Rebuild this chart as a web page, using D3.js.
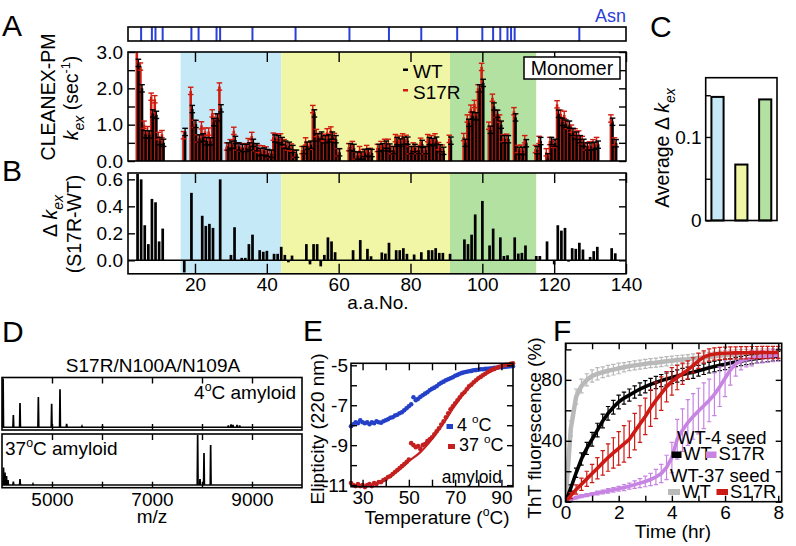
<!DOCTYPE html>
<html>
<head>
<meta charset="utf-8">
<script src="https://cdn.jsdelivr.net/npm/d3@7"></script>
<style>
  body { margin: 0; background: #fff; }
  text { font-family: "Liberation Sans", Arial, Helvetica, sans-serif; }
</style>
</head>
<body>
<svg id="fig" width="796" height="546"></svg>
<script>
// ---- A / B : CLEANEX-PM k_ex per residue ----
const residues = [4,5,6,7,8,9,10,11,17,19,20,21,22,23,24,25,26,27,29,30,31,32,33,34,35,36,37,38,39,40,41,42,43,44,45,46,47,48,50,51,52,53,54,55,56,57,58,59,60,63,64,65,66,67,68,69,71,72,73,74,75,76,77,78,79,80,81,82,83,84,85,86,87,88,89,91,95,96,97,98,99,100,102,103,104,105,106,107,109,110,111,112,115,116,118,119,120,121,122,123,124,125,126,127,128,129,130,131,132,136,137];
const wtKex = [2.70,2.00,0.74,0.73,1.31,1.27,0.55,0.50,0.80,1.43,1.02,0.62,0.65,0.55,0.54,1.07,1.20,1.45,0.40,0.45,0.58,0.40,0.36,0.36,0.40,0.50,0.38,0.25,0.26,0.22,0.20,0.62,0.60,0.55,0.45,0.42,0.33,0.20,0.30,0.42,0.45,1.31,0.65,0.70,0.60,0.62,0.70,0.60,0.24,0.38,0.36,0.15,0.15,0.22,0.24,0.22,0.36,0.38,0.45,0.37,0.30,0.55,0.51,0.56,0.56,0.30,0.36,0.30,0.47,0.30,0.55,0.52,0.56,0.35,0.28,0.56,0.50,1.05,1.25,1.23,2.00,2.15,0.86,1.50,1.30,1.00,0.60,0.60,1.20,0.28,0.28,0.49,0.30,0.55,0.10,0.55,0.50,1.30,1.08,1.03,1.00,0.80,0.70,0.60,0.50,0.40,0.40,0.42,0.45,1.08,0.49];
const s17rKex = [3.34,2.60,1.00,0.85,1.77,1.70,0.69,0.74,0.71,1.93,1.02,0.62,0.98,0.81,0.81,1.31,1.20,2.05,0.40,0.49,0.83,0.40,0.38,0.38,0.52,0.69,0.38,0.33,0.32,0.29,0.20,0.67,0.65,0.65,0.49,0.40,0.37,0.20,0.30,0.54,0.42,1.43,0.77,0.66,0.64,0.79,0.84,0.66,0.24,0.38,0.44,0.15,0.30,0.22,0.33,0.25,0.36,0.44,0.50,0.50,0.30,0.63,0.59,0.65,0.61,0.30,0.40,0.30,0.53,0.30,0.63,0.60,0.65,0.41,0.34,0.61,0.66,1.17,1.44,1.57,2.00,2.59,0.97,1.74,1.30,1.17,0.63,0.64,1.37,0.33,0.34,0.60,0.33,0.58,0.24,0.55,0.47,1.56,1.30,1.27,0.99,0.89,0.79,0.73,0.58,0.40,0.43,0.49,0.55,1.17,0.54];
const deltaKex = [0.64,0.60,0.26,0.12,0.455,0.43,0.14,0.235,-0.09,0.50,null,null,0.33,0.255,0.27,0.24,null,0.60,null,0.04,0.245,null,0.018,0.018,0.12,0.19,null,0.075,0.063,0.07,null,0.048,0.048,0.10,0.04,-0.015,0.035,null,null,0.12,-0.03,0.12,0.12,-0.045,0.04,0.17,0.14,0.06,null,null,0.075,null,0.15,null,0.085,0.03,null,0.058,0.05,0.13,null,0.075,0.075,0.09,0.048,null,0.043,null,0.06,null,0.075,0.075,0.09,0.055,0.055,0.048,0.155,0.12,0.19,0.34,null,0.44,0.11,0.235,null,0.17,0.032,0.037,0.17,0.05,0.055,0.11,0.032,0.032,0.14,null,-0.03,0.26,0.22,0.24,-0.01,0.09,0.085,0.13,0.08,null,0.025,0.068,0.10,0.09,0.052];
const asnSites = [5,8,9,11,19,21,26,27,36,48,63,74,83,93,100,103,105,107,108,109,127];
const regionStart = [16, 44, 91];
const regionEnd = [44, 91, 115];

// ---- C : average delta per region ----
const regionNames = ['17-44', '45-90', '91-114'];
const avgDelta = [0.148, 0.067, 0.145];

// ---- D : mass spectra (m/z, relative intensity) ----
const cold4Mz = [4022,4227,4360,4727,4993,5160,5293,5600,6010,8527,8580,8620,8700,8753];
const cold4Int = [1.0,0.25,0.5,0.62,0.48,0.78,0.07,0.02,0.02,0.04,0.06,0.05,0.05,0.04];
const warm37Mz = [4030,4060,4090,4120,4227,4360,4620,7913,7960,8040,8173];
const warm37Int = [0.35,0.25,0.18,0.1,0.07,0.12,0.02,1.0,0.12,0.64,0.8];

// ---- E : thermal melt ----
const tempC = [25,26,27,28,29,30,31,32,33,34,35,36,37,38,39,40,41,42,43,44,45,46,47,48,49,50,51,52,53,54,55,56,57,58,59,60,61,62,63,64,65,66,67,68,69,70,71,72,73,74,75,76,77,78,79,80,81,82,83,84,85,86,87,88,89,90,91,92,93,94,95];
const ellip4 = [-8.05,-7.95,-7.85,-7.9,-7.75,-7.85,-7.9,-7.85,-7.95,-7.85,-7.9,-7.8,-7.85,-7.88,-7.8,-7.75,-7.7,-7.63,-7.6,-7.52,-7.48,-7.4,-7.35,-7.25,-7.15,-7.05,-6.95,-6.6,-6.75,-6.68,-6.58,-6.5,-6.42,-6.35,-6.25,-6.18,-6.12,-6.05,-5.95,-5.88,-5.82,-5.75,-5.7,-5.65,-5.6,-5.52,-5.48,-5.42,-5.38,-5.35,-5.32,-5.3,-5.28,-5.25,-5.24,-5.22,-5.2,-5.2,-5.18,-5.17,-5.16,-5.15,-5.13,-5.12,-5.1,-5.1,-5.08,-5.07,-5.06,-5.05,-5.05];
const ellip37 = [-10.9,-11.0,-11.05,-10.95,-11.05,-11.0,-11.1,-11.0,-10.95,-11.05,-10.9,-10.95,-10.85,-10.85,-10.75,-10.7,-10.6,-10.55,-10.45,-10.35,-10.25,-10.15,-10.05,-9.95,-9.85,-9.72,-8.9,-9.0,-9.1,-9.05,-9.2,-9.0,-8.95,-8.8,-8.7,-8.6,-8.45,-8.3,-8.15,-7.97,-7.8,-7.6,-7.4,-7.2,-7.05,-6.9,-6.75,-6.6,-6.45,-6.35,-6.2,-6.05,-5.97,-5.85,-5.75,-5.65,-5.58,-5.5,-5.42,-5.35,-5.28,-5.22,-5.18,-5.12,-5.08,-5.05,-5.0,-4.98,-4.97,-4.93,-4.9];
const fitTemp = [25,30,35,40,45,50,55,60,65,70,75,80,85,90,95];
const fit37 = [-11.0,-11.05,-10.95,-10.7,-10.3,-9.8,-9.35,-8.7,-7.9,-7.0,-6.25,-5.7,-5.3,-5.05,-4.9];

// ---- F : ThT kinetics ----
const timeHr = [0,0.2,0.4,0.6,0.8,1.0,1.2,1.4,1.6,1.8,2.0,2.2,2.4,2.6,2.8,3.0,3.2,3.4,3.6,3.8,4.0,4.2,4.4,4.6,4.8,5.0,5.2,5.4,5.6,5.8,6.0,6.2,6.4,6.6,6.8,7.0,7.2,7.4,7.6,7.8,8.0];
const wt37WT = [0,48,69,76,80,82.5,84,85,86,86.7,87.5,88.3,89,89.5,90,90.5,91,91.3,91.7,92.2,92.6,93,93.3,93.6,94,94.3,94.7,95,95.4,95.8,96.2,96.5,96.7,96.9,97,97.1,97.2,97.3,97.4,97.5,97.6];
const wt37WTErr = [0,5,5,4.5,4,4,4,3.5,3.5,3.5,3.5,3,3,3,3,3,3,3,3,3,3,3,3,3,3,3,3,3,3,3,3,3,3,3,3,3,3,3,3,3,3];
const wt4WT = [0,9,19,28,35,41,47,53,58,62,65.5,68,70,72,74,75.5,77,78.3,79.5,80.5,81.5,82.5,83.5,84.3,85,86,87,88,88.8,89.5,90.2,91,91.7,92.3,93,93.5,94,94.5,95,95.3,95.6];
const wt4WTErr = [0,2,3,4,4,4.5,4.5,4.5,4.5,4.5,4.5,4,4,4,4,4,4,4,4,4,4,4,4,4,4,3.5,3.5,3.5,3.5,3.5,3.5,3,3,3,3,3,3,3,3,3,3];
const wt4S17R = [0,1.5,2.7,3.6,4.3,5,5.7,6.4,7.1,7.8,8.5,9.3,10.2,11.2,12.2,13.3,14.6,16.2,18.5,22.5,29,41,47,52,56,59.5,63,66.5,70.5,75.5,81,86.5,90.5,92.5,93.5,94.2,94.8,95.2,95.6,95.9,96.2];
const wt4S17RErr = [0,0.5,0.8,1,1,1,1.2,1.2,1.5,1.5,1.5,2,2,2.5,3,3.5,4,5,6,8,10,13,14,15,15,15,15,14,14,13,12,10,8,6,5,5,4,4,4,4,4];
const wt37S17R = [0,4,8,11.5,15,18.5,22,25.5,29,32,35,38,41,46,51,56,61.5,66.5,71,75.5,79,81.5,84,86.5,89.5,92.5,95,96.3,97,97.3,97.5,97.6,97.7,97.8,97.8,97.9,97.9,98,98,98,98];
const wt37S17RErr = [0,2,3,4,5,6,7,8,9,10,11,12,12,12,12,12,12,12,11,10,9,8,7,6,5,5,4,4,4,4,4,4,4,4,4,4,4,4,4,4,4];

const FONT = '"Liberation Sans", Arial, Helvetica, sans-serif';
const RED = '#d01c10', ASN = '#2a40d8';
const regionFill = ['#c6e9f7', '#f1f5a6', '#b2e1a2'];

const svg = d3.select('#fig');
svg.append('rect').attr('width', 796).attr('height', 546).attr('fill', '#fff');

function axis(gen, tx, ty, fs) {
  const a = svg.append('g').attr('transform', `translate(${tx},${ty})`).call(gen);
  a.select('.domain').remove();
  a.attr('font-size', fs || 19).attr('font-family', FONT);
  a.selectAll('line').attr('stroke-width', 1.4);
  return a;
}
function frame(x0, y0, x1, y1) {
  svg.append('rect').attr('x', x0).attr('y', y0).attr('width', x1 - x0).attr('height', y1 - y0)
    .attr('fill', 'none').attr('stroke', '#000').attr('stroke-width', 1.6);
}
function letter(t, x, y) {
  svg.append('text').attr('x', x).attr('y', y).attr('font-size', 30).text(t);
}
// label built from parts [text, kind] kind: '', 'i' italic, 'isub', 'sup'
function richText(x, y, parts, fs, rotate, anchor) {
  const t = svg.append('text').attr('font-size', fs).attr('text-anchor', anchor || 'middle')
    .attr('transform', `translate(${x},${y})` + (rotate ? ' rotate(-90)' : ''));
  let shift = 0;
  parts.forEach(([s, k]) => {
    const sp = t.append('tspan').text(s);
    let target = 0;
    if (k === 'sub' || k === 'isub') { target = fs * 0.3; sp.attr('font-size', fs * 0.72); }
    if (k === 'sup') { target = -fs * 0.4; sp.attr('font-size', fs * 0.65); }
    if (k === 'i' || k === 'isub') sp.attr('font-style', 'italic');
    sp.attr('dy', target - shift);
    shift = target;
  });
  return t;
}

// ================= A =================
const xRes = d3.scaleLinear().domain([1.35, 140]).range([128, 626]);
const yA = d3.scaleLinear().domain([0, 3]).range([161, 52]);
const yB = d3.scaleLinear().domain([-0.1, 0.647]).range([273.8, 173]);

// region shading
[[52, 161], [173, 273.8]].forEach(([top, bot]) => {
  regionStart.forEach((r0, i) => {
    svg.append('rect').attr('x', xRes(r0)).attr('y', top)
      .attr('width', xRes(regionEnd[i]) - xRes(r0)).attr('height', bot - top)
      .attr('fill', regionFill[i]);
  });
});

// Asn strip
svg.append('g').selectAll('line').data(asnSites).join('line')
  .attr('x1', d => xRes(d)).attr('x2', d => xRes(d)).attr('y1', 27).attr('y2', 41)
  .attr('stroke', ASN).attr('stroke-width', 2);
frame(128, 27, 626, 41);
svg.append('text').attr('x', 626).attr('y', 22).attr('text-anchor', 'end').attr('font-size', 18)
  .attr('fill', ASN).text('Asn');

svg.append('clipPath').attr('id', 'clipA').append('rect').attr('x', 128).attr('y', 52).attr('width', 498).attr('height', 109);
const gA = svg.append('g').attr('clip-path', 'url(#clipA)');
const errA = 0.1;
const rows = residues.map((r, i) => ({ r, wt: wtKex[i], mu: s17rKex[i], d: deltaKex[i] }));

gA.selectAll('rect.mu').data(rows).join('rect').attr('class', 'mu')
  .attr('x', d => xRes(d.r) - 2.0).attr('width', 2.6)
  .attr('y', d => yA(d.mu)).attr('height', d => yA(0) - yA(d.mu)).attr('fill', RED);
gA.selectAll('rect.wt').data(rows).join('rect').attr('class', 'wt')
  .attr('x', d => xRes(d.r) - 0.4).attr('width', 2.6)
  .attr('y', d => yA(d.wt)).attr('height', d => yA(0) - yA(d.wt)).attr('fill', '#000');

function errBars(g, data, xf, vf, ef, ys, col, cap, sw) {
  const eg = g.append('g').attr('stroke', col).attr('stroke-width', sw || 1);
  data.forEach((d, i) => {
    const x = xf(d, i), v = vf(d, i), e = ef(d, i);
    if (!e) return;
    eg.append('line').attr('x1', x).attr('x2', x).attr('y1', ys(v - e)).attr('y2', ys(v + e));
    [v - e, v + e].forEach(yy => eg.append('line').attr('x1', x - cap).attr('x2', x + cap)
      .attr('y1', ys(yy)).attr('y2', ys(yy)));
  });
}
errBars(gA, rows, d => xRes(d.r) - 0.7, d => d.mu, () => errA, yA, RED, 2.8, 1.4);
errBars(gA, rows, d => xRes(d.r) + 0.9, d => d.wt, () => errA, yA, '#000', 2.8, 1.4);

frame(128, 52, 626, 161);
axis(d3.axisLeft(yA).tickValues(d3.range(0, 3.01, 0.5)).tickSize(-7).tickPadding(5)
  .tickFormat(d => Number.isInteger(d) ? d.toFixed(1) : ''), 128, 0);
axis(d3.axisRight(yA).tickValues(d3.range(0, 3.01, 0.5)).tickSize(-7).tickFormat(''), 626, 0);
axis(d3.axisTop(xRes).tickValues(d3.range(20, 141, 20)).tickSize(-10).tickFormat(''), 0, 52);

// legend + monomer box
svg.append('rect').attr('x', 403).attr('y', 68.5).attr('width', 5).attr('height', 2.5).attr('fill', '#000');
svg.append('text').attr('x', 413).attr('y', 78).attr('font-size', 19).text('WT');
svg.append('rect').attr('x', 403).attr('y', 89).attr('width', 5).attr('height', 2.5).attr('fill', RED);
svg.append('text').attr('x', 413).attr('y', 98.5).attr('font-size', 19).text('S17R');
svg.append('rect').attr('x', 524).attr('y', 57).attr('width', 96).attr('height', 22)
  .attr('fill', '#fff').attr('stroke', '#000').attr('stroke-width', 1.5);
svg.append('text').attr('x', 572).attr('y', 75).attr('text-anchor', 'middle').attr('font-size', 19.5).text('Monomer');

letter('A', 2, 36);
richText(55, 97, [['CLEANEX-PM', '']], 19.5, true);
richText(78, 98, [['k', 'i'], ['ex', 'isub'], [' (sec', ''], ['-1', 'sup'], [')', '']], 19.5, true);

// ================= B =================
const drows = rows.filter(d => d.d !== null);
svg.append('g').selectAll('rect').data(drows).join('rect')
  .attr('x', d => xRes(d.r) - 1.3).attr('width', 2.7)
  .attr('y', d => yB(Math.max(0, d.d))).attr('height', d => Math.abs(yB(d.d) - yB(0)))
  .attr('fill', '#000');
svg.append('line').attr('x1', 128).attr('x2', 626).attr('y1', yB(0)).attr('y2', yB(0))
  .attr('stroke', '#000').attr('stroke-width', 1.4);
frame(128, 173, 626, 273.8);
axis(d3.axisLeft(yB).tickValues([0, 0.2, 0.4, 0.6]).tickSize(-7).tickPadding(5).tickFormat(d3.format('.1f')), 128, 0);
axis(d3.axisRight(yB).tickValues([0, 0.2, 0.4, 0.6]).tickSize(-7).tickFormat(''), 626, 0);
axis(d3.axisTop(xRes).tickValues(d3.range(20, 141, 20)).tickSize(-10).tickFormat(''), 0, 173);
axis(d3.axisBottom(xRes).tickValues(d3.range(20, 141, 20)).tickSize(-10).tickPadding(4), 0, 273.8);
svg.append('text').attr('x', 378).attr('y', 309).attr('text-anchor', 'middle').attr('font-size', 19).text('a.a.No.');
letter('B', 2, 181);
richText(57, 216, [['\u0394 ', ''], ['k', 'i'], ['ex', 'isub']], 19.5, true);
richText(81, 224, [['(S17R-WT)', '']], 19.5, true);

// ================= C =================
const xC = d3.scaleBand().domain(regionNames).range([705.7, 777]).paddingInner(0.49).paddingOuter(0.24);
const yC = d3.scaleLinear().domain([0, 0.171]).range([220.5, 77.7]);
svg.append('g').selectAll('rect').data(regionNames).join('rect')
  .attr('x', d => xC(d)).attr('width', xC.bandwidth())
  .attr('y', (d, i) => yC(avgDelta[i])).attr('height', (d, i) => yC(0) - yC(avgDelta[i]))
  .attr('fill', (d, i) => regionFill[i]).attr('stroke', '#000').attr('stroke-width', 2);
frame(705.7, 77.7, 777, 220.5);
axis(d3.axisLeft(yC).tickValues([0, 0.05, 0.1, 0.15]).tickSize(-5).tickPadding(4)
  .tickFormat(d => d === 0 ? '0' : d === 0.1 ? '0.1' : ''), 705.7, 0);
letter('C', 650, 37);
richText(669, 148, [['Average \u0394 ', ''], ['k', 'i'], ['ex', 'isub']], 19.5, true);

// ================= D =================
const xD = d3.scaleLinear().domain([4000, 10000]).range([2, 302]);
function spectrum(mz, inten, top, bot, base) {
  const yS = d3.scaleLinear().domain([0, 1]).range([base, top + 1]);
  svg.append('line').attr('x1', 2).attr('x2', 302).attr('y1', base).attr('y2', base)
    .attr('stroke', '#000').attr('stroke-width', 1.4);
  const line = d3.line().x(d => xD(d[0])).y(d => yS(d[1]));
  mz.forEach((m, i) => {
    svg.append('path').attr('d', line([[m - 8, 0], [m, inten[i]], [m + 8, 0]]))
      .attr('fill', 'none').attr('stroke', '#000').attr('stroke-width', 1.7);
  });
  frame(2, top, 302, bot);
  axis(d3.axisTop(xD).tickValues(d3.range(5000, 9001, 1000)).tickSize(-6).tickFormat(''), 0, top);
  axis(d3.axisBottom(xD).tickValues(d3.range(5000, 9001, 1000)).tickSize(-6).tickFormat(''), 0, bot);
}
spectrum(cold4Mz, cold4Int, 377.5, 430, 427.3);
spectrum(warm37Mz, warm37Int, 434, 487.7, 485);
axis(d3.axisBottom(xD).tickValues([5000, 7000, 9000]).tickSize(0).tickPadding(5).tickFormat(d3.format('d')), 0, 487.7);
svg.append('text').attr('x', 152).attr('y', 523).attr('text-anchor', 'middle').attr('font-size', 19).text('m/z');
svg.append('text').attr('x', 153).attr('y', 371.5).attr('text-anchor', 'middle').attr('font-size', 19).text('S17R/N100A/N109A');
richText(296, 398.5, [['4', ''], ['o', 'sup'], ['C amyloid', '']], 19, false, 'end');
richText(5, 455, [['37', ''], ['o', 'sup'], ['C amyloid', '']], 19, false, 'start');
letter('D', 2, 342);

// ================= E =================
const xE = d3.scaleLinear().domain([25, 95]).range([351, 513]);
const yE = d3.scaleLinear().domain([-11.08, -4.9]).range([486.7, 363.3]);
const BLUE_E = '#2440c8', RED_E = '#c42020';
svg.append('g').selectAll('circle').data(tempC).join('circle')
  .attr('cx', d => xE(d)).attr('cy', (d, i) => yE(ellip4[i])).attr('r', 2.3).attr('fill', BLUE_E);
svg.append('g').selectAll('circle').data(tempC).join('circle')
  .attr('cx', d => xE(d)).attr('cy', (d, i) => yE(ellip37[i])).attr('r', 2.3).attr('fill', RED_E);
svg.append('path').attr('d', d3.line().curve(d3.curveMonotoneX)
    .x(d => xE(d)).y((d, i) => yE(fit37[i]))(fitTemp))
  .attr('fill', 'none').attr('stroke', RED_E).attr('stroke-width', 2.2);
frame(351, 363.3, 513, 486.7);
axis(d3.axisLeft(yE).tickValues(d3.range(-11, -4.9, 1)).tickSize(-6).tickPadding(3)
  .tickFormat(d => [-5, -7, -9, -11].includes(d) ? d : ''), 351, 0);
axis(d3.axisRight(yE).tickValues(d3.range(-11, -4.9, 1)).tickSize(-6).tickFormat(''), 513, 0);
axis(d3.axisBottom(xE).tickValues(d3.range(30, 91, 10)).tickSize(-7).tickPadding(4)
  .tickFormat(d => d % 20 === 10 ? d : ''), 0, 486.7);
axis(d3.axisTop(xE).tickValues(d3.range(30, 91, 10)).tickSize(-7).tickFormat(''), 0, 363.3);
svg.append('rect').attr('x', 446.5).attr('y', 424).attr('width', 6.5).attr('height', 5).attr('fill', BLUE_E);
richText(457, 430.5, [['4 ', ''], ['o', 'sup'], ['C', '']], 18, false, 'start');
svg.append('rect').attr('x', 448).attr('y', 444).attr('width', 7).attr('height', 5).attr('fill', RED_E);
richText(459, 450.5, [['37 ', ''], ['o', 'sup'], ['C', '']], 18, false, 'start');
svg.append('text').attr('x', 502).attr('y', 483).attr('text-anchor', 'end').attr('font-size', 17.5).text('amyloid');
richText(437, 524, [['Temperature (', ''], ['o', 'sup'], ['C)', '']], 19, false);
richText(324, 429, [['Elipticity (220 nm)', '']], 19, true);
letter('E', 303, 341);

// ================= F =================
const xF = d3.scaleLinear().domain([0, 8.13]).range([565.5, 781.7]);
const yF = d3.scaleLinear().domain([0, 104]).range([501.7, 343.3]);
svg.append('clipPath').attr('id', 'clipF').append('rect').attr('x', 565.5).attr('y', 343.3).attr('width', 216.2).attr('height', 158.4);
const gF = svg.append('g').attr('clip-path', 'url(#clipF)');
const fSeries = [
  { v: wt37WT, e: wt37WTErr, c: '#b9b9b9', w: 4.5 },
  { v: wt4WT, e: wt4WTErr, c: '#000000', w: 3.6 },
  { v: wt4S17R, e: wt4S17RErr, c: '#c784e2', w: 3.6 },
  { v: wt37S17R, e: wt37S17RErr, c: '#cc1a14', w: 3.6 }
];
fSeries.forEach(s => {
  errBars(gF, timeHr, d => xF(d), (d, i) => s.v[i], (d, i) => s.e[i], yF, s.c, 2.2, 1.2);
  gF.append('path').attr('d', d3.line().x(d => xF(d)).y((d, i) => yF(s.v[i]))(timeHr))
    .attr('fill', 'none').attr('stroke', s.c).attr('stroke-width', s.w);
});
frame(565.5, 343.3, 781.7, 501.7);
axis(d3.axisLeft(yF).tickValues(d3.range(0, 101, 20)).tickSize(-6).tickPadding(3)
  .tickFormat(d => d % 40 === 0 ? d : ''), 565.5, 0);
axis(d3.axisRight(yF).tickValues(d3.range(0, 101, 20)).tickSize(-6).tickFormat(''), 781.7, 0);
axis(d3.axisBottom(xF).tickValues(d3.range(0, 8.1, 1)).tickSize(-6).tickPadding(4)
  .tickFormat(d => d % 2 === 0 ? d : ''), 0, 501.7);
axis(d3.axisTop(xF).tickValues(d3.range(0, 8.1, 1)).tickSize(-6).tickFormat(''), 0, 343.3);
svg.append('text').attr('x', 677).attr('y', 443.5).attr('font-size', 18.5).text('WT-4 seed');
svg.append('rect').attr('x', 671.5).attr('y', 451.5).attr('width', 10).attr('height', 6.5).attr('fill', '#000');
svg.append('text').attr('x', 683).attr('y', 460).attr('font-size', 18.5).text('WT');
svg.append('rect').attr('x', 706).attr('y', 451.5).attr('width', 10.5).attr('height', 6.5).attr('fill', '#c784e2');
svg.append('text').attr('x', 718.5).attr('y', 460).attr('font-size', 18.5).text('S17R');
svg.append('text').attr('x', 670).attr('y', 481.5).attr('font-size', 18.5).text('WT-37 seed');
svg.append('rect').attr('x', 668).attr('y', 489).attr('width', 12).attr('height', 6).attr('fill', '#b9b9b9');
svg.append('text').attr('x', 682).attr('y', 498).attr('font-size', 18.5).text('WT');
svg.append('rect').attr('x', 716.5).attr('y', 489).attr('width', 11.5).attr('height', 6).attr('fill', '#cc1a14');
svg.append('text').attr('x', 730).attr('y', 498).attr('font-size', 18.5).text('S17R');
svg.append('text').attr('x', 673).attr('y', 538).attr('text-anchor', 'middle').attr('font-size', 19).text('Time (hr)');
richText(540.5, 428, [['ThT fluorescence (%)', '']], 19, true);
letter('F', 553, 341);
</script>
</body>
</html>
